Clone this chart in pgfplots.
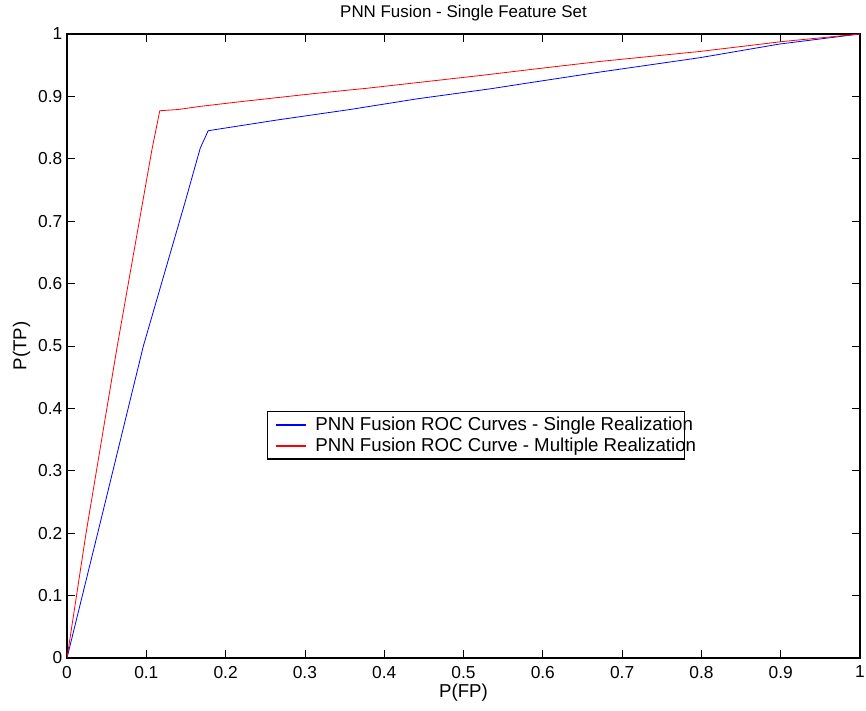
\documentclass[border=0pt]{standalone}
\usepackage{pgfplots}
\pgfplotsset{compat=1.18}
\usepackage{fontspec}
\setmainfont{Liberation Sans}
\begin{document}
\begin{tikzpicture}[x=1pt,y=1pt]
\path[use as bounding box] (-50.25,-39) rectangle (599.25,493.5);
\begin{axis}[
  at={(0,0)}, anchor=south west,
  scale only axis, width=594.75pt, height=468pt,
  xmin=0, xmax=1, ymin=0, ymax=1,
  xtick={0,0.1,...,1.01}, ytick={0,0.1,...,1.01},
  tick align=inside, major tick length=6pt,
  xtick pos=both, ytick pos=both,
  axis line style={line width=0.8pt, black},
  tick style={line width=0.6pt, black},
  /pgf/number format/assume math mode=true,
  ticklabel style={font=\fontsize{13}{15}\selectfont},
  xticklabel style={yshift=-2.5pt},
  title={PNN Fusion - Single Feature Set},
  title style={font=\fontsize{12.7}{14}\selectfont, at={(axis description cs:0.5,1)}, anchor=center, yshift=9.5pt},
  xlabel={P(FP)},
  xlabel style={font=\fontsize{14}{16}\selectfont, at={(axis description cs:0.5,0)}, anchor=center, yshift=-26pt},
  ylabel={P(TP)},
  ylabel style={font=\fontsize{14}{16}\selectfont, at={(axis description cs:0,0.5)}, anchor=center, yshift=34pt},
  legend style={at={(axis description cs:0.2522,0.3566)}, anchor=west, line width=0.8pt, font=\fontsize{14}{16}\selectfont, row sep=0pt, inner xsep=6pt, inner ysep=2pt},
  legend cell align=left,
]
\addplot[color=blue, line width=0.6pt, forget plot] coordinates {
(0,0) (0.0387,0.2) (0.0963,0.5) (0.149,0.731) (0.168,0.817) (0.178,0.845) (0.264,0.862) (0.357,0.879) (0.441,0.896) (0.533,0.912) (0.584,0.922) (0.672,0.939) (0.798,0.962) (0.899,0.984) (1,1)
};
\addplot[color=red, line width=0.6pt, forget plot] coordinates {
(0,0) (0.024,0.2) (0.0634,0.5) (0.107,0.814) (0.117,0.877) (0.140,0.879) (0.168,0.884) (0.222,0.892) (0.315,0.905) (0.378,0.913) (0.462,0.925) (0.525,0.934) (0.584,0.943) (0.672,0.956) (0.798,0.972) (0.903,0.988) (1,1)
};
\addlegendimage{legend image code/.code={\draw[blue, line width=0.9pt] (0pt,0pt) -- (22.5pt,0pt);}}
\addlegendentry{\hspace{4.5pt}\makebox[268.75pt][l]{PNN Fusion ROC Curves - Single Realization}}
\addlegendimage{legend image code/.code={\draw[red, line width=0.9pt] (0pt,0pt) -- (22.5pt,0pt);}}
\addlegendentry{\hspace{4.5pt}\makebox[268.75pt][l]{PNN Fusion ROC Curve - Multiple Realization}}
\end{axis}
\end{tikzpicture}
\end{document}
